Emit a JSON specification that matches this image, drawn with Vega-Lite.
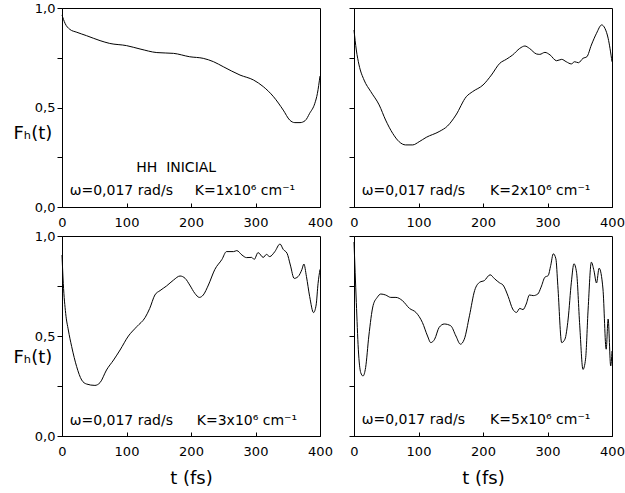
{
  "$schema": "https://vega.github.io/schema/vega-lite/v6.json",
  "padding": {"left": 12, "top": 1, "right": 1, "bottom": 1},
  "background": "white",
  "config": {
    "view": {"stroke": "black", "strokeWidth": 1},
    "axis": {
      "labelFont": "DejaVu Sans", "labelFontSize": 13, "labelColor": "black",
      "tickColor": "black", "domainColor": "black", "tickWidth": 1, "domainWidth": 1,
      "grid": false, "labelFlush": false, "labelOverlap": false,
      "titleFont": "DejaVu Sans", "titleFontWeight": "normal", "titleFontSize": 18, "titleColor": "black"
    },
    "axisX": {"tickSize": -4, "labelPadding": 13},
    "axisY": {"tickSize": 5, "labelPadding": 2},
    "text": {"font": "DejaVu Sans", "fontSize": 14, "color": "black", "align": "left", "baseline": "alphabetic"},
    "line": {"color": "black", "strokeWidth": 1, "interpolate": "monotone"}
  },
  "datasets": {
    "k1": [
      {"t":0,"F":0.965},{"t":4.7,"F":0.923},{"t":12,"F":0.893},{"t":23,"F":0.878},{"t":38,"F":0.861},{"t":59,"F":0.836},{"t":74,"F":0.822},{"t":100,"F":0.811},{"t":121,"F":0.794},{"t":147,"F":0.776},{"t":173,"F":0.772},{"t":198,"F":0.755},{"t":219,"F":0.747},{"t":235,"F":0.73},{"t":250,"F":0.705},{"t":276,"F":0.663},{"t":297,"F":0.638},{"t":312,"F":0.605},{"t":328,"F":0.554},{"t":343,"F":0.487},{"t":353,"F":0.437},{"t":361,"F":0.424},{"t":369,"F":0.424},{"t":377,"F":0.434},{"t":384,"F":0.471},{"t":392,"F":0.521},{"t":396,"F":0.571},{"t":400,"F":0.658}
    ],
    "k2": [
      {"t":0,"F":0.889},{"t":3.6,"F":0.789},{"t":7.8,"F":0.714},{"t":15.6,"F":0.638},{"t":26,"F":0.58},{"t":39,"F":0.513},{"t":49,"F":0.437},{"t":60,"F":0.37},{"t":70,"F":0.328},{"t":80,"F":0.312},{"t":91,"F":0.312},{"t":101,"F":0.328},{"t":112,"F":0.35},{"t":132,"F":0.379},{"t":145,"F":0.407},{"t":158,"F":0.462},{"t":174,"F":0.554},{"t":184,"F":0.58},{"t":200,"F":0.613},{"t":213,"F":0.663},{"t":226,"F":0.722},{"t":236,"F":0.742},{"t":246,"F":0.764},{"t":257,"F":0.797},{"t":265,"F":0.809},{"t":272,"F":0.797},{"t":283,"F":0.769},{"t":288,"F":0.767},{"t":296,"F":0.777},{"t":304,"F":0.764},{"t":314,"F":0.735},{"t":322,"F":0.742},{"t":329,"F":0.73},{"t":337,"F":0.719},{"t":342,"F":0.73},{"t":348,"F":0.725},{"t":355,"F":0.747},{"t":361,"F":0.755},{"t":368,"F":0.814},{"t":376,"F":0.873},{"t":384,"F":0.915},{"t":389,"F":0.898},{"t":394,"F":0.848},{"t":400,"F":0.73}
    ],
    "k3": [
      {"t":0,"F":0.905},{"t":2,"F":0.763},{"t":5.7,"F":0.613},{"t":9.8,"F":0.53},{"t":15,"F":0.447},{"t":22.7,"F":0.347},{"t":30.5,"F":0.28},{"t":38,"F":0.26},{"t":51,"F":0.253},{"t":59,"F":0.267},{"t":69,"F":0.33},{"t":80,"F":0.38},{"t":90,"F":0.43},{"t":103,"F":0.5},{"t":116,"F":0.547},{"t":129,"F":0.593},{"t":136,"F":0.638},{"t":144,"F":0.705},{"t":152,"F":0.727},{"t":162,"F":0.75},{"t":173,"F":0.78},{"t":183,"F":0.8},{"t":191,"F":0.788},{"t":198,"F":0.755},{"t":206,"F":0.713},{"t":213,"F":0.693},{"t":219,"F":0.705},{"t":227,"F":0.755},{"t":237,"F":0.833},{"t":248,"F":0.883},{"t":255,"F":0.922},{"t":266,"F":0.922},{"t":271,"F":0.927},{"t":279,"F":0.905},{"t":286,"F":0.892},{"t":294,"F":0.893},{"t":298,"F":0.883},{"t":304,"F":0.917},{"t":312,"F":0.893},{"t":317,"F":0.908},{"t":322,"F":0.897},{"t":330,"F":0.922},{"t":338,"F":0.96},{"t":343,"F":0.933},{"t":349,"F":0.913},{"t":354,"F":0.855},{"t":360,"F":0.788},{"t":366,"F":0.797},{"t":372,"F":0.833},{"t":375,"F":0.86},{"t":379,"F":0.797},{"t":384,"F":0.697},{"t":390,"F":0.617},{"t":394,"F":0.655},{"t":397,"F":0.763},{"t":400,"F":0.833}
    ],
    "k5": [
      {"t":0,"F":0.97},{"t":3.6,"F":0.668},{"t":6.7,"F":0.434},{"t":10.4,"F":0.317},{"t":14,"F":0.3},{"t":18,"F":0.342},{"t":23,"F":0.5},{"t":29.6,"F":0.652},{"t":36,"F":0.693},{"t":41.5,"F":0.71},{"t":49,"F":0.705},{"t":57,"F":0.693},{"t":65,"F":0.693},{"t":75,"F":0.677},{"t":86,"F":0.638},{"t":96,"F":0.618},{"t":106,"F":0.568},{"t":114,"F":0.5},{"t":119,"F":0.467},{"t":125,"F":0.484},{"t":132,"F":0.543},{"t":140,"F":0.56},{"t":150,"F":0.551},{"t":158,"F":0.5},{"t":165,"F":0.459},{"t":171,"F":0.484},{"t":179,"F":0.601},{"t":187,"F":0.727},{"t":195,"F":0.769},{"t":202,"F":0.777},{"t":211,"F":0.806},{"t":218,"F":0.786},{"t":226,"F":0.765},{"t":231,"F":0.755},{"t":239,"F":0.698},{"t":246,"F":0.635},{"t":252,"F":0.618},{"t":257,"F":0.638},{"t":262,"F":0.632},{"t":267,"F":0.66},{"t":272,"F":0.705},{"t":278,"F":0.702},{"t":285,"F":0.71},{"t":290,"F":0.744},{"t":296,"F":0.794},{"t":301,"F":0.802},{"t":305,"F":0.853},{"t":309,"F":0.911},{"t":313,"F":0.886},{"t":316,"F":0.752},{"t":322,"F":0.467},{"t":327,"F":0.484},{"t":332,"F":0.585},{"t":337,"F":0.769},{"t":341,"F":0.861},{"t":345,"F":0.819},{"t":350,"F":0.551},{"t":355,"F":0.333},{"t":359,"F":0.384},{"t":363,"F":0.635},{"t":368,"F":0.869},{"t":372,"F":0.827},{"t":376,"F":0.765},{"t":380,"F":0.839},{"t":386,"F":0.735},{"t":391,"F":0.434},{"t":394,"F":0.585},{"t":398,"F":0.35},{"t":400,"F":0.425}
    ]
  },
  "concat": [
    {
      "width": 258, "height": 199,
      "layer": [
        {"data": {"name": "k1"}, "mark": "line",
         "encoding": {
           "x": {"field": "t", "type": "quantitative", "scale": {"domain": [0, 400], "nice": false},
                 "axis": {"values": [0,50,100,150,200,250,300,350,400], "labelExpr": "datum.value % 100 == 0 ? datum.label : ''", "title": null}},
           "y": {"field": "F", "type": "quantitative", "scale": {"domain": [0, 1], "nice": false},
                 "axis": {"values": [0,0.25,0.5,0.75,1], "labelExpr": "datum.value == 0 ? '0,0' : datum.value == 0.5 ? '0,5' : datum.value == 1 ? '1,0' : ''",
                          "title": "Fₕ(t)", "titleAngle": 0, "titleAlign": "left", "titleBaseline": "alphabetic", "titleX": -49, "titleY": 130}}
         }},
        {"data": {"values": [{"label": "HH\u00a0\u00a0INICIAL"}]}, "mark": {"type": "text", "fontSize": 14},
         "encoding": {"x": {"datum": 115, "type": "quantitative"}, "y": {"datum": 0.177, "type": "quantitative"}, "text": {"field": "label"}}},
        {"data": {"values": [{"label": "ω=0,017 rad/s"}]}, "mark": "text",
         "encoding": {"x": {"datum": 12, "type": "quantitative"}, "y": {"datum": 0.06, "type": "quantitative"}, "text": {"field": "label"}}},
        {"data": {"values": [{"label": "K=1x10⁶ cm⁻¹"}]}, "mark": "text",
         "encoding": {"x": {"datum": 206, "type": "quantitative"}, "y": {"datum": 0.06, "type": "quantitative"}, "text": {"field": "label"}}}
      ]
    },
    {
      "width": 258, "height": 199,
      "layer": [
        {"data": {"name": "k2"}, "mark": "line",
         "encoding": {
           "x": {"field": "t", "type": "quantitative", "scale": {"domain": [0, 400], "nice": false},
                 "axis": {"values": [0,50,100,150,200,250,300,350,400], "labelExpr": "datum.value % 100 == 0 ? datum.label : ''", "title": null}},
           "y": {"field": "F", "type": "quantitative", "scale": {"domain": [0, 1], "nice": false},
                 "axis": {"values": [0,0.25,0.5,0.75,1], "labels": false, "title": null}}
         }},
        {"data": {"values": [{"label": "ω=0,017 rad/s"}]}, "mark": "text",
         "encoding": {"x": {"datum": 12, "type": "quantitative"}, "y": {"datum": 0.06, "type": "quantitative"}, "text": {"field": "label"}}},
        {"data": {"values": [{"label": "K=2x10⁶ cm⁻¹"}]}, "mark": "text",
         "encoding": {"x": {"datum": 211, "type": "quantitative"}, "y": {"datum": 0.06, "type": "quantitative"}, "text": {"field": "label"}}}
      ]
    },
    {
      "width": 258, "height": 200,
      "layer": [
        {"data": {"name": "k3"}, "mark": "line",
         "encoding": {
           "x": {"field": "t", "type": "quantitative", "scale": {"domain": [0, 400], "nice": false},
                 "axis": {"values": [0,50,100,150,200,250,300,350,400], "labelExpr": "datum.value % 100 == 0 ? datum.label : ''",
                          "title": "t (fs)", "titleBaseline": "alphabetic", "titleY": 47}},
           "y": {"field": "F", "type": "quantitative", "scale": {"domain": [0, 1], "nice": false},
                 "axis": {"values": [0,0.25,0.5,0.75,1], "labelExpr": "datum.value == 0 ? '0,0' : datum.value == 0.5 ? '0,5' : datum.value == 1 ? '1,0' : ''",
                          "title": "Fₕ(t)", "titleAngle": 0, "titleAlign": "left", "titleBaseline": "alphabetic", "titleX": -49, "titleY": 126}}
         }},
        {"data": {"values": [{"label": "ω=0,017 rad/s"}]}, "mark": "text",
         "encoding": {"x": {"datum": 12, "type": "quantitative"}, "y": {"datum": 0.055, "type": "quantitative"}, "text": {"field": "label"}}},
        {"data": {"values": [{"label": "K=3x10⁶ cm⁻¹"}]}, "mark": "text",
         "encoding": {"x": {"datum": 209, "type": "quantitative"}, "y": {"datum": 0.055, "type": "quantitative"}, "text": {"field": "label"}}}
      ]
    },
    {
      "width": 258, "height": 200,
      "layer": [
        {"data": {"name": "k5"}, "mark": "line",
         "encoding": {
           "x": {"field": "t", "type": "quantitative", "scale": {"domain": [0, 400], "nice": false},
                 "axis": {"values": [0,50,100,150,200,250,300,350,400], "labelExpr": "datum.value % 100 == 0 ? datum.label : ''",
                          "title": "t (fs)", "titleBaseline": "alphabetic", "titleY": 47}},
           "y": {"field": "F", "type": "quantitative", "scale": {"domain": [0, 1], "nice": false},
                 "axis": {"values": [0,0.25,0.5,0.75,1], "labels": false, "title": null}}
         }},
        {"data": {"values": [{"label": "ω=0,017 rad/s"}]}, "mark": "text",
         "encoding": {"x": {"datum": 12, "type": "quantitative"}, "y": {"datum": 0.062, "type": "quantitative"}, "text": {"field": "label"}}},
        {"data": {"values": [{"label": "K=5x10⁶ cm⁻¹"}]}, "mark": "text",
         "encoding": {"x": {"datum": 211, "type": "quantitative"}, "y": {"datum": 0.062, "type": "quantitative"}, "text": {"field": "label"}}}
      ]
    }
  ],
  "columns": 2,
  "spacing": {"row": 29, "column": 34},
  "bounds": "flush"
}
